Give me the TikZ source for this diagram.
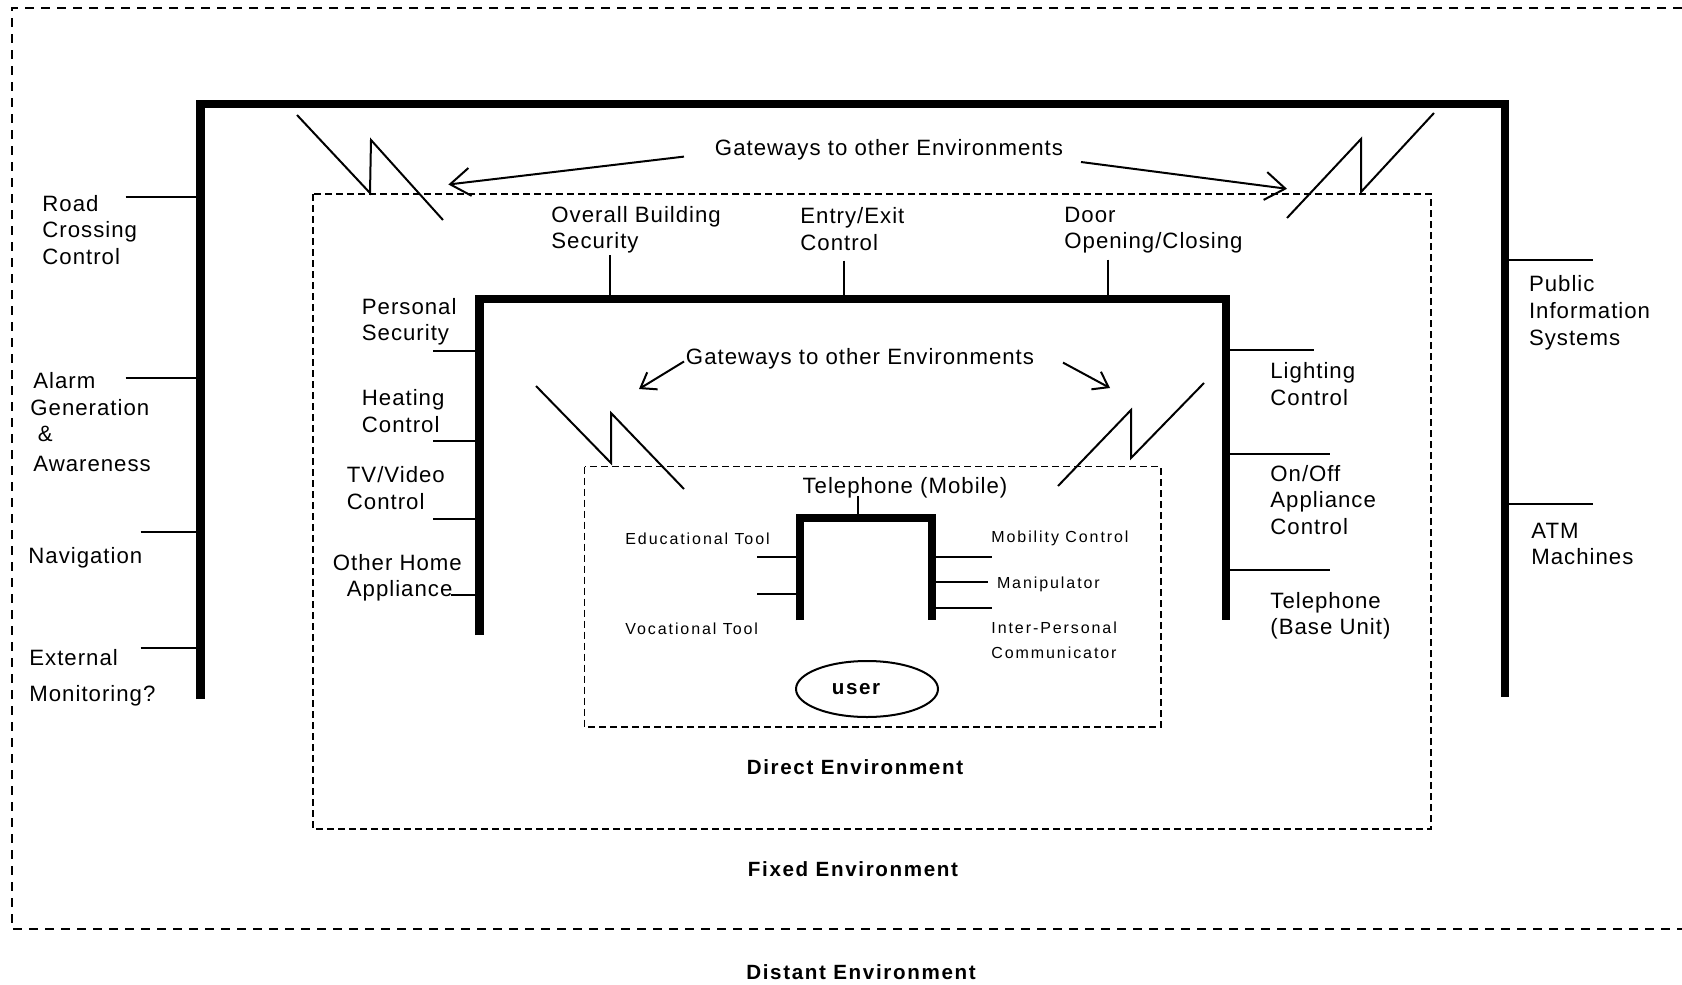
\documentclass[tikz,border=0pt]{standalone}
\usepackage{fontspec}
\setmainfont{Liberation Sans}
\newfontfamily\smallfnt[LetterSpace=12]{Liberation Sans}
\newfontfamily\boldfnt[LetterSpace=8]{Liberation Sans Bold}
\newfontfamily\labfnt[LetterSpace=4.5]{Liberation Sans}
\usetikzlibrary{arrows.meta,shapes.geometric}
\begin{document}
\begin{tikzpicture}[x=0.5pt,y=-0.5pt,
  lab/.style={font=\labfnt\fontsize{11.1}{13.2}\selectfont,align=left,inner sep=0pt,anchor=west,yshift=-1pt},
  sml/.style={font=\smallfnt\fontsize{8}{9}\selectfont,inner sep=0pt,anchor=west},
  envlab/.style={font=\boldfnt\fontsize{10.3}{12}\selectfont,inner sep=0pt},
  thickframe/.style={line width=4.3pt,line join=miter},
  stub/.style={line width=1pt},
  envbox/.style={line width=0.8pt,dash pattern=on 3.5pt off 2pt},
  outerbox/.style={line width=0.8pt,dash pattern=on 4.5pt off 3.5pt},
  bolt/.style={line width=1pt,line join=miter},
  gwarrow/.style={line width=1pt,-{Straight Barb[length=10pt,width=14pt,line width=1pt]}},
  gwarrowsm/.style={line width=1pt,-{Straight Barb[length=7pt,width=10pt,line width=1pt]}}]
\useasboundingbox (0,0) rectangle (1682,985);
% outer (distant) dashed region
\draw[outerbox] (1682,8) -- (12,8) -- (12,929) -- (1682,929);
% fixed and direct environment boxes
\draw[envbox] (313,194) rectangle (1431,829);
\draw[envbox] (584.6,466.6) rectangle (1160.7,727);
% thick frames
\coordinate (oa) at (200.6,699); \coordinate (ob) at (200.6,104);
\coordinate (oc) at (1505,104); \coordinate (od) at (1505,697);
\draw[thickframe] (oa) -- (ob) -- (oc) -- (od);
\coordinate (ia) at (479.5,635); \coordinate (ib) at (479.5,299);
\coordinate (ic) at (1226,299); \coordinate (id) at (1226,620);
\draw[thickframe] (ia) -- (ib) -- (ic) -- (id);
\coordinate (ua) at (800,620); \coordinate (ub) at (800,518);
\coordinate (uc) at (932,518); \coordinate (ud) at (932,620);
\draw[line width=4pt,line join=miter] (ua) -- (ub) -- (uc) -- (ud);
% outer left labels
\node[lab] (road) at (42,228) {Road\\Crossing\\Control};
\node[lab] (alarm) at (30,420) {\hspace*{1.5pt}Alarm\\Generation\\\hspace*{3.75pt}\&\\[1.5pt]\hspace*{1.5pt}Awareness};
\node[lab] (nav) at (28,556) {Navigation};
\node[lab,font=\labfnt\fontsize{11.1}{18}\selectfont] (ext) at (29,676) {External\\Monitoring?};
\coordinate (s1) at (125.5,197); \coordinate (s1e) at (200.6,197);
\coordinate (s2) at (125.5,377.6); \coordinate (s2e) at (200.6,377.6);
\coordinate (s3) at (140.5,532); \coordinate (s3e) at (200.6,532);
\coordinate (s4) at (140.5,648); \coordinate (s4e) at (200.6,648);
\draw[stub] (s1) -- (s1e); \draw[stub] (s2) -- (s2e);
\draw[stub] (s3) -- (s3e); \draw[stub] (s4) -- (s4e);
% outer right labels
\node[lab,font=\labfnt\fontsize{11.1}{13.5}\selectfont] (pub) at (1528.6,311) {Public\\Information\\Systems};
\node[lab] (atm) at (1531,542) {ATM\\Machines};
\coordinate (r1) at (1505,259.6); \coordinate (r1e) at (1593,259.6);
\coordinate (r2) at (1505,504); \coordinate (r2e) at (1593,504);
\draw[stub] (r1) -- (r1e); \draw[stub] (r2) -- (r2e);
% top labels of fixed environment
\node[lab] (obs) at (551,228) {Overall Building\\Security};
\node[lab] (entry) at (800,227) {Entry/Exit\\Control};
\node[lab] (door) at (1064,228) {Door\\Opening/Closing};
\coordinate (t1) at (610,255); \coordinate (t1e) at (610,299);
\coordinate (t2) at (844,260.6); \coordinate (t2e) at (844,299);
\coordinate (t3) at (1108,259.6); \coordinate (t3e) at (1108,299);
\draw[stub] (t1) -- (t1e); \draw[stub] (t2) -- (t2e); \draw[stub] (t3) -- (t3e);
% inner left labels
\node[lab] (pers) at (361.5,320) {Personal\\Security};
\node[lab] (heat) at (361.5,409) {Heating\\Control};
\node[lab] (tv) at (346.5,486) {TV/Video\\Control};
\node[lab] (other) at (332.5,576) {Other Home\\\hspace*{7pt}Appliance};
\coordinate (l1) at (433.4,350.8); \coordinate (l1e) at (479.5,350.8);
\coordinate (l2) at (433.4,440.9); \coordinate (l2e) at (479.5,440.9);
\coordinate (l3) at (433.4,519); \coordinate (l3e) at (479.5,519);
\coordinate (l4) at (450.5,595); \coordinate (l4e) at (479.5,595);
\draw[stub] (l1) -- (l1e); \draw[stub] (l2) -- (l2e);
\draw[stub] (l3) -- (l3e); \draw[stub] (l4) -- (l4e);
% inner right labels
\node[lab] (light) at (1270,382) {Lighting\\Control};
\node[lab] (onoff) at (1270,498) {On/Off\\Appliance\\Control};
\node[lab] (tbase) at (1270,614) {Telephone\\(Base Unit)};
\coordinate (q1) at (1226,349.7); \coordinate (q1e) at (1314,349.7);
\coordinate (q2) at (1226,453.7); \coordinate (q2e) at (1330,453.7);
\coordinate (q3) at (1226,569.6); \coordinate (q3e) at (1330,569.6);
\draw[stub] (q1) -- (q1e); \draw[stub] (q2) -- (q2e); \draw[stub] (q3) -- (q3e);
% gateways (outer)
\node[lab,anchor=center] (gw1) at (889,148) {Gateways to other Environments};
\coordinate (g1s) at (684,156.6); \coordinate (g1t) at (448.4,184.5);
\coordinate (g2s) at (1081,162); \coordinate (g2t) at (1287,188.8);
\draw[gwarrow] (g1s) -- (g1t);
\draw[gwarrow] (g2s) -- (g2t);
\coordinate (b1a) at (297,115); \coordinate (b1b) at (370,193);
\coordinate (b1c) at (371,140); \coordinate (b1d) at (443,220);
\draw[bolt] (b1a) -- (b1b) -- (b1c) -- (b1d);
\coordinate (b2a) at (1434,113); \coordinate (b2b) at (1361,192);
\coordinate (b2c) at (1361,139); \coordinate (b2d) at (1287,218);
\draw[bolt] (b2a) -- (b2b) -- (b2c) -- (b2d);
% gateways (inner)
\node[lab,anchor=center] (gw2) at (860,357) {Gateways to other Environments};
\coordinate (g3s) at (684,361.5); \coordinate (g3t) at (639,389);
\coordinate (g4s) at (1063,362.6); \coordinate (g4t) at (1110,388);
\draw[gwarrowsm] (g3s) -- (g3t);
\draw[gwarrowsm] (g4s) -- (g4t);
\coordinate (b3a) at (536,386); \coordinate (b3b) at (611,463);
\coordinate (b3c) at (611,413); \coordinate (b3d) at (684,489);
\draw[bolt] (b3a) -- (b3b) -- (b3c) -- (b3d);
\coordinate (b4a) at (1204,383); \coordinate (b4b) at (1131,458);
\coordinate (b4c) at (1131,410); \coordinate (b4d) at (1058,486);
\draw[bolt] (b4a) -- (b4b) -- (b4c) -- (b4d);
% direct environment
\node[lab,anchor=center] (tmob) at (905,486) {Telephone (Mobile)};
\coordinate (p1) at (858,496); \coordinate (p1e) at (858,518);
\draw[stub] (p1) -- (p1e);
\node[sml] (edu) at (625,538.5) {Educational Tool};
\node[sml] (voc) at (625,628.6) {Vocational Tool};
\node[sml] (mob) at (991,538.5) {Mobility Control};
\node[sml] (man) at (996.6,584.6) {Manipulator};
\node[sml] (inter) at (991,627.5) {Inter-Personal};
\node[sml] (comm) at (991,653) {Communicator};
\coordinate (u1) at (757,556.7); \coordinate (u1e) at (800,556.7);
\coordinate (u2) at (757,594); \coordinate (u2e) at (800,594);
\coordinate (u3) at (932,556.7); \coordinate (u3e) at (992,556.7);
\coordinate (u4) at (932,582.3); \coordinate (u4e) at (988,582.3);
\coordinate (u5) at (932,607.7); \coordinate (u5e) at (992,607.7);
\draw[stub] (u1) -- (u1e); \draw[stub] (u2) -- (u2e);
\draw[stub] (u3) -- (u3e); \draw[stub] (u4) -- (u4e); \draw[stub] (u5) -- (u5e);
\node[draw,ellipse,line width=1pt,minimum width=71pt,minimum height=28pt,inner sep=0pt,font=\boldfnt\fontsize{10.3}{12}\selectfont] (user) at (867,689) {user\hspace*{11pt}};
% environment names
\node[envlab] (direct) at (855,767) {Direct Environment};
\node[envlab] (fixed) at (853,869) {Fixed Environment};
\node[envlab] (distant) at (861,972) {Distant Environment};
\end{tikzpicture}
\end{document}
